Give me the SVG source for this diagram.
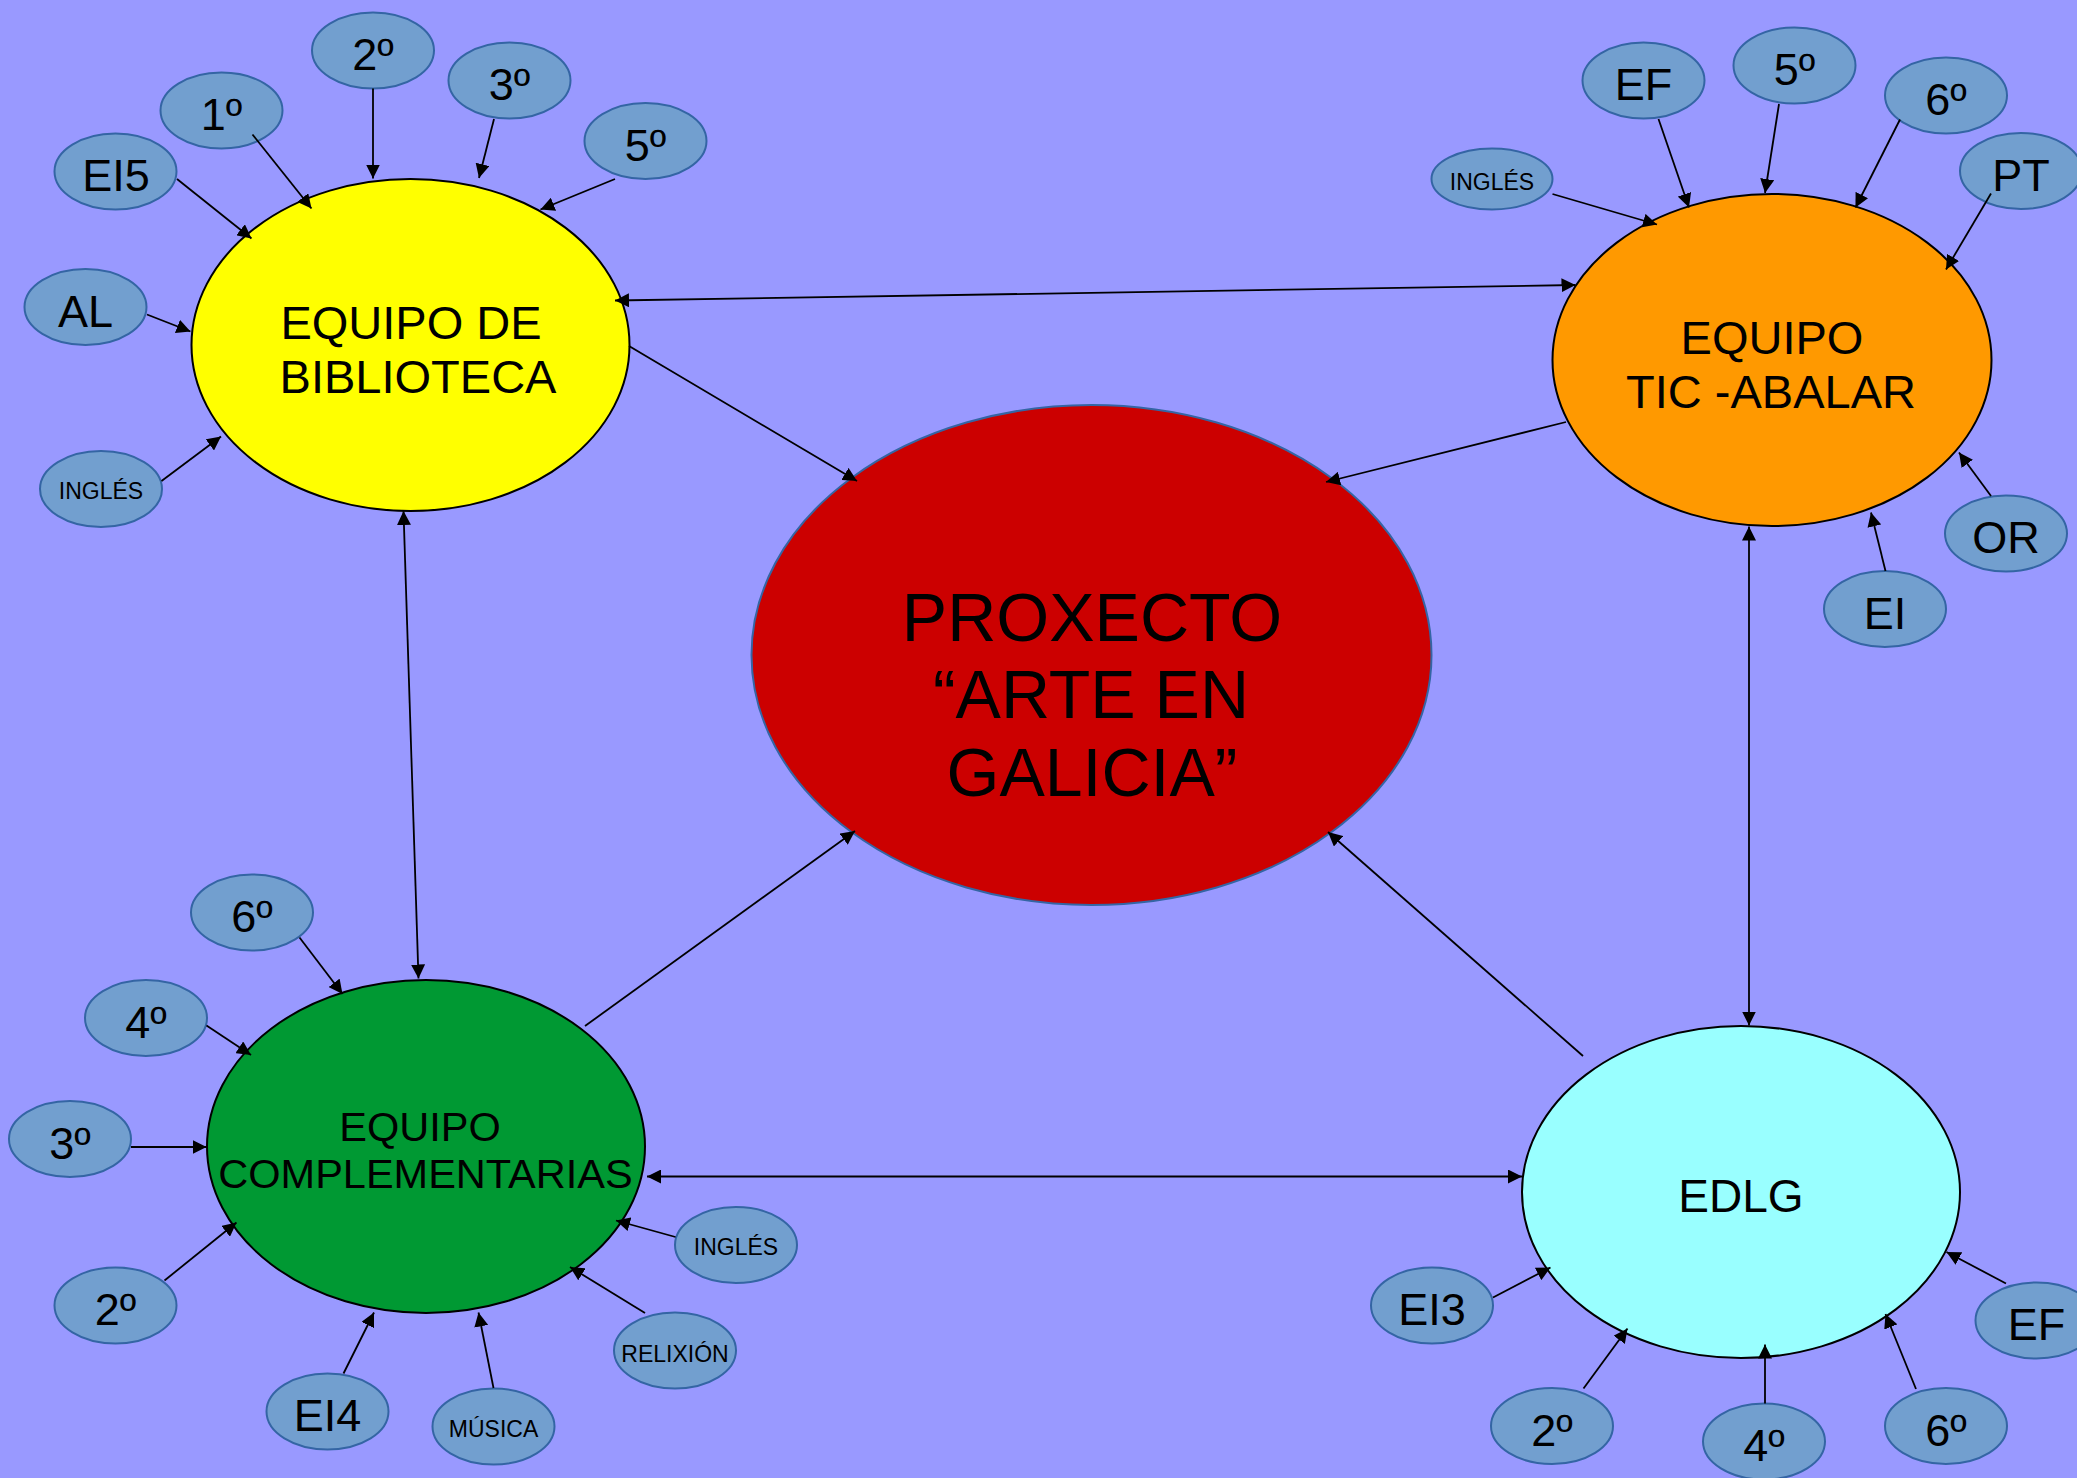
<svg xmlns="http://www.w3.org/2000/svg" width="2077" height="1478" viewBox="0 0 2077 1478">
<style>
.big{stroke:#000;stroke-width:2}
.sm{fill:#729fcf;stroke:#3465a4;stroke-width:2}
text{font-family:"Liberation Sans",Arial,sans-serif;fill:#000;text-anchor:middle}
.t45{font-size:45px}
.t23{font-size:23px}
.c line{stroke:#000;stroke-width:1.8;marker-end:url(#ah)}
.c line.d{marker-start:url(#ah)}
</style>
<defs>
<marker id="ah" viewBox="0 0 14 14" refX="14" refY="7" markerWidth="14" markerHeight="14" markerUnits="userSpaceOnUse" orient="auto-start-reverse"><path d="M0,0 L14,7 L0,14 z" fill="#000"/></marker>
</defs>
<rect width="2077" height="1478" fill="#9999ff"/>

<g id="proxecto">
<ellipse cx="1091.5" cy="655" rx="340" ry="250" fill="#cc0000" stroke="#3465a4" stroke-width="2"/>
<text x="1092" y="641" font-size="68">PROXECTO</text>
<text x="1091" y="718" font-size="68">“ARTE EN</text>
<text x="1092" y="796" font-size="68">GALICIA”</text>
</g>

<g id="biblioteca">
<ellipse class="big" cx="410.5" cy="345" rx="219" ry="166" fill="#ffff00"/>
<text x="411" y="339" font-size="47">EQUIPO DE</text>
<text x="418" y="392.5" font-size="47">BIBLIOTECA</text>
</g>

<g id="tic">
<ellipse class="big" cx="1772" cy="360" rx="219.5" ry="166" fill="#ff9900"/>
<text x="1772" y="353.5" font-size="47">EQUIPO</text>
<text x="1771" y="407.5" font-size="47">TIC -ABALAR</text>
</g>

<g id="complementarias">
<ellipse class="big" cx="426" cy="1146.5" rx="219" ry="166.5" fill="#009933"/>
<text x="420" y="1141" font-size="41.5">EQUIPO</text>
<text x="425.5" y="1188" font-size="41.5">COMPLEMENTARIAS</text>
</g>

<g id="edlg">
<ellipse class="big" cx="1741" cy="1192" rx="219" ry="166" fill="#99ffff"/>
<text x="1741" y="1211.5" font-size="46">EDLG</text>
</g>

<!-- biblioteca satellites -->
<g id="b-2"><ellipse class="sm" cx="373" cy="50.5" rx="61" ry="38"/><text class="t45" x="373" y="70">2º</text></g>
<g id="b-1"><ellipse class="sm" cx="221.5" cy="110.5" rx="61" ry="38"/><text class="t45" x="221.5" y="130">1º</text></g>
<g id="b-3"><ellipse class="sm" cx="509.5" cy="80.5" rx="61" ry="38"/><text class="t45" x="509.5" y="100">3º</text></g>
<g id="b-5"><ellipse class="sm" cx="645.5" cy="141" rx="61" ry="38"/><text class="t45" x="645.5" y="160.5">5º</text></g>
<g id="b-ei5"><ellipse class="sm" cx="115.5" cy="171.5" rx="61" ry="38"/><text class="t45" x="116" y="191">EI5</text></g>
<g id="b-al"><ellipse class="sm" cx="85.5" cy="307" rx="61" ry="38"/><text class="t45" x="85.5" y="327">AL</text></g>
<g id="b-ingles"><ellipse class="sm" cx="101" cy="489" rx="61" ry="38"/><text class="t23" x="101" y="498.5">INGLÉS</text></g>

<!-- TIC satellites -->
<g id="t-ingles"><ellipse class="sm" cx="1492" cy="179" rx="60.5" ry="30.5"/><text class="t23" x="1492" y="190">INGLÉS</text></g>
<g id="t-ef"><ellipse class="sm" cx="1643.5" cy="80.5" rx="61" ry="38"/><text class="t45" x="1643.5" y="100">EF</text></g>
<g id="t-5"><ellipse class="sm" cx="1794.5" cy="65.5" rx="61" ry="38"/><text class="t45" x="1794.5" y="85">5º</text></g>
<g id="t-6"><ellipse class="sm" cx="1946" cy="95.5" rx="61" ry="38"/><text class="t45" x="1946" y="115">6º</text></g>
<g id="t-pt"><ellipse class="sm" cx="2021" cy="171" rx="61" ry="38"/><text class="t45" x="2021" y="190.5">PT</text></g>
<g id="t-or"><ellipse class="sm" cx="2006" cy="533.5" rx="61" ry="38"/><text class="t45" x="2006" y="553">OR</text></g>
<g id="t-ei"><ellipse class="sm" cx="1885" cy="609" rx="61" ry="38"/><text class="t45" x="1885" y="628.5">EI</text></g>

<!-- complementarias satellites -->
<g id="c-6"><ellipse class="sm" cx="252" cy="912.5" rx="61" ry="38"/><text class="t45" x="252" y="932">6º</text></g>
<g id="c-4"><ellipse class="sm" cx="146" cy="1018" rx="61" ry="38"/><text class="t45" x="146" y="1037.5">4º</text></g>
<g id="c-3"><ellipse class="sm" cx="70" cy="1139" rx="61" ry="38"/><text class="t45" x="70" y="1158.5">3º</text></g>
<g id="c-2"><ellipse class="sm" cx="115.5" cy="1305.5" rx="61" ry="38"/><text class="t45" x="115.5" y="1325">2º</text></g>
<g id="c-ei4"><ellipse class="sm" cx="327.5" cy="1411.5" rx="61" ry="38"/><text class="t45" x="327.5" y="1431">EI4</text></g>
<g id="c-musica"><ellipse class="sm" cx="493.5" cy="1426.5" rx="61" ry="38"/><text class="t23" x="493.5" y="1437">MÚSICA</text></g>
<g id="c-relixion"><ellipse class="sm" cx="675" cy="1350.5" rx="61" ry="38"/><text class="t23" x="675" y="1361.5">RELIXIÓN</text></g>
<g id="c-ingles"><ellipse class="sm" cx="736" cy="1245" rx="61" ry="38"/><text class="t23" x="736" y="1254.5">INGLÉS</text></g>

<!-- EDLG satellites -->
<g id="e-ei3"><ellipse class="sm" cx="1432" cy="1305.5" rx="61" ry="38"/><text class="t45" x="1432" y="1325">EI3</text></g>
<g id="e-2"><ellipse class="sm" cx="1552" cy="1426" rx="61" ry="38"/><text class="t45" x="1552" y="1445.5">2º</text></g>
<g id="e-4"><ellipse class="sm" cx="1764" cy="1441.5" rx="61" ry="38"/><text class="t45" x="1764" y="1461">4º</text></g>
<g id="e-6"><ellipse class="sm" cx="1946" cy="1426" rx="61" ry="38"/><text class="t45" x="1946" y="1445.5">6º</text></g>
<g id="e-ef"><ellipse class="sm" cx="2036.5" cy="1320.5" rx="61" ry="38"/><text class="t45" x="2036.5" y="1340">EF</text></g>

<g id="connectors" class="c">
<line class="d" x1="615" y1="300.5" x2="1575.5" y2="285"/>
<line x1="629" y1="346" x2="857" y2="481"/>
<line x1="1566" y1="422" x2="1326" y2="482"/>
<line class="d" x1="403.5" y1="511" x2="418.5" y2="978.5"/>
<line x1="585" y1="1026" x2="855" y2="831"/>
<line class="d" x1="647" y1="1176.5" x2="1522" y2="1176.5"/>
<line x1="1583" y1="1056" x2="1328" y2="832"/>
<line class="d" x1="1749" y1="526.5" x2="1749" y2="1025.5"/>
<!-- biblioteca satellites -->
<line x1="373" y1="88.5" x2="373" y2="178.5"/>
<line x1="252.5" y1="134.5" x2="311.5" y2="208.5"/>
<line x1="494" y1="119" x2="479" y2="178"/>
<line x1="615" y1="179" x2="540.5" y2="209.5"/>
<line x1="177" y1="179" x2="251.5" y2="238.5"/>
<line x1="147" y1="314.5" x2="190.5" y2="331.5"/>
<line x1="161.5" y1="481" x2="221" y2="436.5"/>
<!-- TIC satellites -->
<line x1="1552.5" y1="194" x2="1657" y2="224.5"/>
<line x1="1658.5" y1="119" x2="1689" y2="207.5"/>
<line x1="1779" y1="104" x2="1765" y2="193"/>
<line x1="1900" y1="119.5" x2="1855.5" y2="207.5"/>
<line x1="1991" y1="193.5" x2="1946" y2="269.5"/>
<line x1="1991" y1="496" x2="1959" y2="452.5"/>
<line x1="1885.5" y1="571" x2="1871" y2="512.5"/>
<!-- complementarias satellites -->
<line x1="299.5" y1="937.5" x2="342.5" y2="994"/>
<line x1="206.5" y1="1025.5" x2="251" y2="1055"/>
<line x1="131" y1="1147" x2="206.5" y2="1147"/>
<line x1="164.5" y1="1280.5" x2="236.5" y2="1222.5"/>
<line x1="343.5" y1="1373.5" x2="374" y2="1312.5"/>
<line x1="493.5" y1="1388" x2="478.5" y2="1312.5"/>
<line x1="645" y1="1313" x2="570" y2="1267"/>
<line x1="675.5" y1="1237" x2="616" y2="1220.5"/>
<!-- EDLG satellites -->
<line x1="1493" y1="1297.5" x2="1550.5" y2="1267.5"/>
<line x1="1583.5" y1="1388.5" x2="1627.5" y2="1328.5"/>
<line x1="1765" y1="1403.5" x2="1765" y2="1344.5"/>
<line x1="1916" y1="1389" x2="1885.5" y2="1314"/>
<line x1="2006" y1="1283.5" x2="1946.5" y2="1252"/>
</g>
</svg>
